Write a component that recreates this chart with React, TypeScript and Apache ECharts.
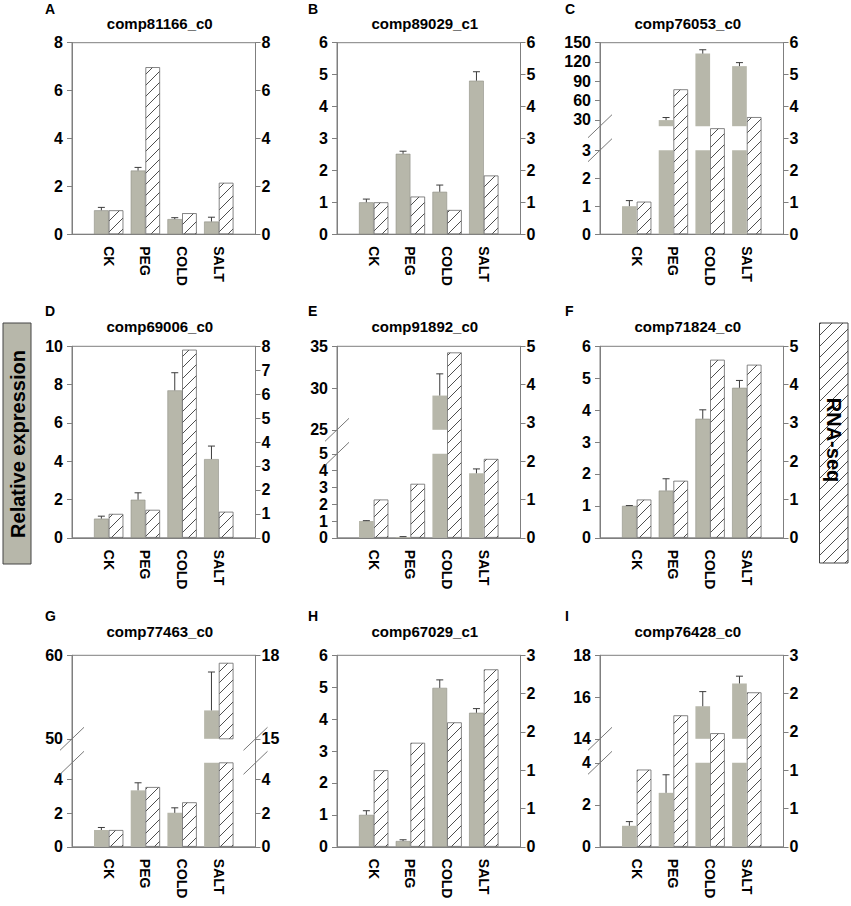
import React, { useEffect, useRef } from 'react';
import * as echarts from 'echarts';

// ---------------- data ----------------
const categories = ['CK', 'PEG', 'COLD', 'SALT'];
const geneIds = [
  'comp81166_c0', 'comp89029_c1', 'comp76053_c0',
  'comp69006_c0', 'comp91892_c0', 'comp71824_c0',
  'comp77463_c0', 'comp67029_c1', 'comp76428_c0',
];
const panelLetters = ['A', 'B', 'C', 'D', 'E', 'F', 'G', 'H', 'I'];

// qRT-PCR relative expression (grey bars) and upper error whisker
const qpcrA = [1.0, 2.66, 0.63, 0.53];
const errA = [0.12, 0.13, 0.06, 0.18];
const qpcrB = [1.0, 2.52, 1.33, 4.81];
const errB = [0.1, 0.08, 0.21, 0.28];
const qpcrC = [1.0, 29.5, 133, 113.5];
const errC = [0.2, 4, 6, 5.5];
const qpcrD = [1.0, 1.99, 7.7, 4.11];
const errD = [0.13, 0.36, 0.92, 0.68];
const qpcrE = [1.0, 0.05, 29.1, 3.84];
const errE = [0.02, 0.02, 2.6, 0.26];
const qpcrF = [1.0, 1.48, 3.73, 4.7];
const errF = [0.01, 0.37, 0.28, 0.23];
const qpcrG = [1.0, 3.36, 2.02, 53.4];
const errG = [0.15, 0.45, 0.3, 4.6];
const qpcrH = [1.0, 0.18, 4.98, 4.2];
const errH = [0.13, 0.04, 0.25, 0.13];
const qpcrI = [1.0, 2.57, 15.56, 16.65];
const errI = [0.2, 0.86, 0.7, 0.35];

// RNA-seq (hatched bars)
const rnaA = [1.0, 6.98, 0.88, 2.15];
const rnaB = [1.0, 1.18, 0.76, 1.84];
const rnaC = [1.02, 4.54, 3.32, 3.67];
const rnaD = [1.0, 1.17, 7.86, 1.09];
const rnaE = [1.0, 1.41, 4.84, 2.06];
const rnaF = [1.0, 1.49, 4.65, 4.52];
const rnaG = [1.0, 3.56, 2.65, 17.73];
const rnaH = [1.2, 1.63, 1.95, 2.78];
const rnaI = [1.21, 2.06, 1.78, 2.42];

// axis ranges / ticks (left = qRT-PCR, right = RNA-seq); "upper" = segment above a break
type Seg = { min: number; max: number; interval?: number; ticks?: number[] };
type Side = { lower: Seg; upper?: Seg; round?: boolean };
const leftA: Side = { lower: { min: 0, max: 8, interval: 2 } };
const rightA: Side = { lower: { min: 0, max: 8, interval: 2 } };
const leftB: Side = { lower: { min: 0, max: 6, interval: 1 } };
const rightB: Side = { lower: { min: 0, max: 6, interval: 1 } };
const leftC: Side = { lower: { min: 0, max: 3, interval: 1 }, upper: { min: 20, max: 150, ticks: [30, 60, 90, 120, 150] } };
const rightC: Side = { lower: { min: 0, max: 6, interval: 1 } };
const leftD: Side = { lower: { min: 0, max: 10, interval: 2 } };
const rightD: Side = { lower: { min: 0, max: 8, interval: 1 } };
const leftE: Side = { lower: { min: 0, max: 5, interval: 1 }, upper: { min: 25, max: 35, interval: 5 } };
const rightE: Side = { lower: { min: 0, max: 5, interval: 1 } };
const leftF: Side = { lower: { min: 0, max: 6, interval: 1 } };
const rightF: Side = { lower: { min: 0, max: 5, interval: 1 } };
const leftG: Side = { lower: { min: 0, max: 5, ticks: [0, 2, 4] }, upper: { min: 50, max: 60, interval: 10 } };
const rightG: Side = { lower: { min: 0, max: 5, ticks: [0, 2, 4] }, upper: { min: 15, max: 18, interval: 3 } };
const leftH: Side = { lower: { min: 0, max: 6, interval: 1 } };
const rightH: Side = { lower: { min: 0, max: 3, interval: 0.6 }, round: true };
const leftI: Side = { lower: { min: 0, max: 4, interval: 2 }, upper: { min: 14, max: 18, interval: 2 } };
const rightI: Side = { lower: { min: 0, max: 3, interval: 0.6 }, round: true };

type Panel = { id: string; letter: string; qpcr: number[]; err: number[]; rna: number[]; left: Side; right: Side };
const panels: Panel[] = [
  { id: geneIds[0], letter: panelLetters[0], qpcr: qpcrA, err: errA, rna: rnaA, left: leftA, right: rightA },
  { id: geneIds[1], letter: panelLetters[1], qpcr: qpcrB, err: errB, rna: rnaB, left: leftB, right: rightB },
  { id: geneIds[2], letter: panelLetters[2], qpcr: qpcrC, err: errC, rna: rnaC, left: leftC, right: rightC },
  { id: geneIds[3], letter: panelLetters[3], qpcr: qpcrD, err: errD, rna: rnaD, left: leftD, right: rightD },
  { id: geneIds[4], letter: panelLetters[4], qpcr: qpcrE, err: errE, rna: rnaE, left: leftE, right: rightE },
  { id: geneIds[5], letter: panelLetters[5], qpcr: qpcrF, err: errF, rna: rnaF, left: leftF, right: rightF },
  { id: geneIds[6], letter: panelLetters[6], qpcr: qpcrG, err: errG, rna: rnaG, left: leftG, right: rightG },
  { id: geneIds[7], letter: panelLetters[7], qpcr: qpcrH, err: errH, rna: rnaH, left: leftH, right: rightH },
  { id: geneIds[8], letter: panelLetters[8], qpcr: qpcrI, err: errI, rna: rnaI, left: leftI, right: rightI },
];

// ---------------- layout / style ----------------
const FONT = '"Liberation Sans", Arial, Helvetica, sans-serif';
const AXIS = '#7f7f7f';
const GREY = '#b7b7aa';
const colLeft = [72, 337, 600];
const rowTop = [42.7, 346.3, 655.3];
const GW = 183.5;
const GH = 191.5;
const LOWER_H = 84;
const GAP_H = 24;
const rowTitleY = [23, 326.7, 631.7];
const rowLetterY = [8.5, 311, 615.5];
const colLetterX = [45, 308, 565];

const hatchSvg =
  "<svg xmlns='http://www.w3.org/2000/svg' width='11' height='11'>" +
  "<rect width='11' height='11' fill='white'/>" +
  "<path d='M-1,12 L12,-1 M-1,1 L1,-1 M10,12 L12,10' stroke='#3a3a3a' stroke-width='0.9' fill='none'/></svg>";
const hatch: any = {
  image: 'data:image/svg+xml;charset=utf-8,' + encodeURIComponent(hatchSvg),
  repeat: 'repeat',
  imageWidth: 11,
  imageHeight: 11,
};

function buildOption() {
  const grid: any[] = [];
  const xAxis: any[] = [];
  const yAxis: any[] = [];
  const series: any[] = [];
  const graphic: any[] = [];
  const padCats = ['', ...categories, ' '];
  const pad = (arr: (number | string)[]) => ['-', ...arr, '-'];
  const empty = categories.map(() => '-');

  const addGrid = (left: number, top: number, height: number, show: boolean) => {
    grid.push({ left, top, width: GW, height, show, borderColor: AXIS, borderWidth: 1, backgroundColor: 'transparent' });
    return grid.length - 1;
  };
  const addX = (gi: number, visible: boolean) => {
    xAxis.push({
      type: 'category', gridIndex: gi, data: padCats, boundaryGap: false, show: visible,
      axisLine: { show: visible, onZero: false, lineStyle: { color: AXIS, width: 1 } },
      axisTick: { show: false },
      axisLabel: {
        show: visible, interval: 0, rotate: -90, margin: 12, color: '#000',
        fontSize: 14, fontWeight: 'bold', fontFamily: FONT,
      },
      splitLine: { show: false },
    });
    return xAxis.length - 1;
  };
  const addY = (gi: number, position: 'left' | 'right', seg: Seg | null, mode: 'full' | 'line' | 'labels', round?: boolean) => {
    const showLabels = mode !== 'line';
    const fmt = round ? (v: number) => String(Math.round(v)) : (v: number) => String(+(+v).toFixed(2));
    const ax: any = {
      type: 'value', gridIndex: gi, position,
      min: seg ? seg.min : 0, max: seg ? seg.max : 1,
      axisLine: { show: mode !== 'labels', onZero: false, lineStyle: { color: AXIS, width: 1 } },
      axisTick: { show: showLabels, inside: false, length: 5, lineStyle: { color: AXIS, width: 1 } },
      axisLabel: {
        show: showLabels, margin: position === 'left' ? 9 : 6, color: '#000',
        fontSize: 16, fontWeight: 'bold', fontFamily: FONT, formatter: fmt,
      },
      splitLine: { show: false },
    };
    if (seg && seg.interval) ax.interval = seg.interval;
    if (seg && seg.ticks) {
      ax.axisTick.customValues = seg.ticks;
      ax.axisLabel.customValues = seg.ticks;
    }
    yAxis.push(ax);
    return yAxis.length - 1;
  };

  const greyBar = (xi: number, yi: number, data: number[], broken: boolean) => ({
    type: 'bar', xAxisIndex: xi, yAxisIndex: yi, data: pad(data), barWidth: '40%', barGap: '0%',
    clip: true, silent: true,
    itemStyle: broken
      ? { color: GREY, borderWidth: 0 }
      : { color: GREY, borderColor: '#8e8e84', borderWidth: 0.6 },
  });
  const hatchBar = (xi: number, yi: number, data: number[]) => ({
    type: 'bar', xAxisIndex: xi, yAxisIndex: yi, data: pad(data), barWidth: '40%', barGap: '0%',
    clip: true, silent: true,
    itemStyle: { color: hatch, borderColor: '#666', borderWidth: 0.8 },
  });
  const placeholder = (xi: number, yi: number) => ({
    type: 'bar', xAxisIndex: xi, yAxisIndex: yi, data: pad(empty), barWidth: '40%', barGap: '0%', silent: true,
  });
  const errorSeries = (xi: number, yi: number, p: Panel, seg: Seg | null) => ({
    type: 'custom', xAxisIndex: xi, yAxisIndex: yi, silent: true, z: 5,
    encode: { x: 0, y: 1 },
    data: p.qpcr.map((v, i) => [i + 1, v, p.err[i]]),
    renderItem: (params: any, api: any) => {
      const ci = api.value(0);
      const v = api.value(1);
      const e = api.value(2);
      if (seg && (v < seg.min || v > seg.max)) return null;
      const bw = api.size([1, 0])[0];
      const base = api.coord([ci, v]);
      const tip = api.coord([ci, v + e]);
      const cx = base[0] - bw * 0.2;
      const style = { stroke: '#3c3c3c', lineWidth: 1 };
      return {
        type: 'group',
        children: [
          { type: 'line', shape: { x1: cx, y1: base[1], x2: cx, y2: tip[1] }, style },
          { type: 'line', shape: { x1: cx - 3.5, y1: tip[1], x2: cx + 3.5, y2: tip[1] }, style },
        ],
      };
    },
  });

  panels.forEach((p, k) => {
    const col = k % 3;
    const row = Math.floor(k / 3);
    const left = colLeft[col];
    const top = rowTop[row];
    const lb = !!p.left.upper;
    const rb = !!p.right.upper;

    const gMain = addGrid(left, top, GH, true);
    const xMain = addX(gMain, true);
    const yLMain = addY(gMain, 'left', lb ? null : p.left.lower, lb ? 'line' : 'full', p.left.round);
    const yRMain = addY(gMain, 'right', rb ? null : p.right.lower, rb ? 'line' : 'full', p.right.round);
    if (!lb || !rb) {
      series.push(lb ? placeholder(xMain, yLMain) : greyBar(xMain, yLMain, p.qpcr, false));
      series.push(rb ? placeholder(xMain, yRMain) : hatchBar(xMain, yRMain, p.rna));
      if (!lb) series.push(errorSeries(xMain, yLMain, p, null));
    }
    if (lb || rb) {
      const lowerTop = top + GH - LOWER_H;
      const upperH = GH - LOWER_H - GAP_H;
      const parts: { t: number; h: number; key: 'lower' | 'upper' }[] = [
        { t: lowerTop, h: LOWER_H, key: 'lower' },
        { t: top, h: upperH, key: 'upper' },
      ];
      parts.forEach((pt) => {
        const g = addGrid(left, pt.t, pt.h, false);
        const x = addX(g, false);
        const yL = lb ? addY(g, 'left', p.left[pt.key] as Seg, 'labels', p.left.round) : -1;
        const yR = rb ? addY(g, 'right', p.right[pt.key] as Seg, 'labels', p.right.round) : -1;
        const yAny = yL >= 0 ? yL : yR;
        series.push(lb ? greyBar(x, yL, p.qpcr, true) : placeholder(x, yAny));
        series.push(rb ? hatchBar(x, yR, p.rna) : placeholder(x, yAny));
        if (lb) series.push(errorSeries(x, yL, p, p.left[pt.key] as Seg));
      });
      const slashY = [lowerTop, top + upperH];
      const axesX: number[] = [];
      if (lb) axesX.push(left);
      if (rb) axesX.push(left + GW);
      axesX.forEach((ax) => {
        slashY.forEach((sy) => {
          graphic.push({
            type: 'line', z: 10, silent: true,
            shape: { x1: ax - 12, y1: sy + 11.5, x2: ax + 12, y2: sy - 11.5 },
            style: { stroke: '#777', lineWidth: 1 },
          });
        });
      });
    }

    graphic.push({
      type: 'text', x: colLetterX[col], y: rowLetterY[row], silent: true,
      style: {
        text: p.letter, font: `bold 14px ${FONT}`, fill: '#000',
        textAlign: 'left', align: 'left', textVerticalAlign: 'middle', verticalAlign: 'middle',
      },
    });
    graphic.push({
      type: 'text', x: left + GW / 2 - 4, y: rowTitleY[row], silent: true,
      style: {
        text: p.id, font: `bold 15px ${FONT}`, fill: '#000',
        textAlign: 'center', align: 'center', textVerticalAlign: 'middle', verticalAlign: 'middle',
      },
    });
  });

  // side legend boxes
  graphic.push({
    type: 'rect', silent: true, shape: { x: 3, y: 323, width: 28, height: 241 },
    style: { fill: GREY, stroke: '#444', lineWidth: 1 },
  });
  graphic.push({
    type: 'text', x: 17.5, y: 444, rotation: Math.PI / 2, silent: true,
    style: {
      text: 'Relative expression', font: `bold 20px ${FONT}`, fill: '#000',
      textAlign: 'center', align: 'center', textVerticalAlign: 'middle', verticalAlign: 'middle',
    },
  });
  graphic.push({
    type: 'rect', silent: true, shape: { x: 819.5, y: 323, width: 28.5, height: 240 },
    style: { fill: hatch, stroke: '#444', lineWidth: 1 },
  });
  graphic.push({
    type: 'text', x: 834, y: 440, rotation: -Math.PI / 2, silent: true,
    style: {
      text: 'RNA-seq', font: `bold 20px ${FONT}`, fill: '#000',
      textAlign: 'center', align: 'center', textVerticalAlign: 'middle', verticalAlign: 'middle',
    },
  });

  return {
    animation: false,
    backgroundColor: '#fff',
    grid, xAxis, yAxis, series, graphic,
  };
}

export default function App() {
  const ref = useRef<HTMLDivElement>(null);
  useEffect(() => {
    if (!ref.current) return;
    const chart = echarts.init(ref.current, undefined, { renderer: 'svg' });
    chart.setOption(buildOption() as any);
    return () => chart.dispose();
  }, []);
  return (
    <div
      ref={ref}
      style={{ position: 'absolute', left: 0, top: 0, width: 851, height: 906, background: '#fff' }}
    />
  );
}
